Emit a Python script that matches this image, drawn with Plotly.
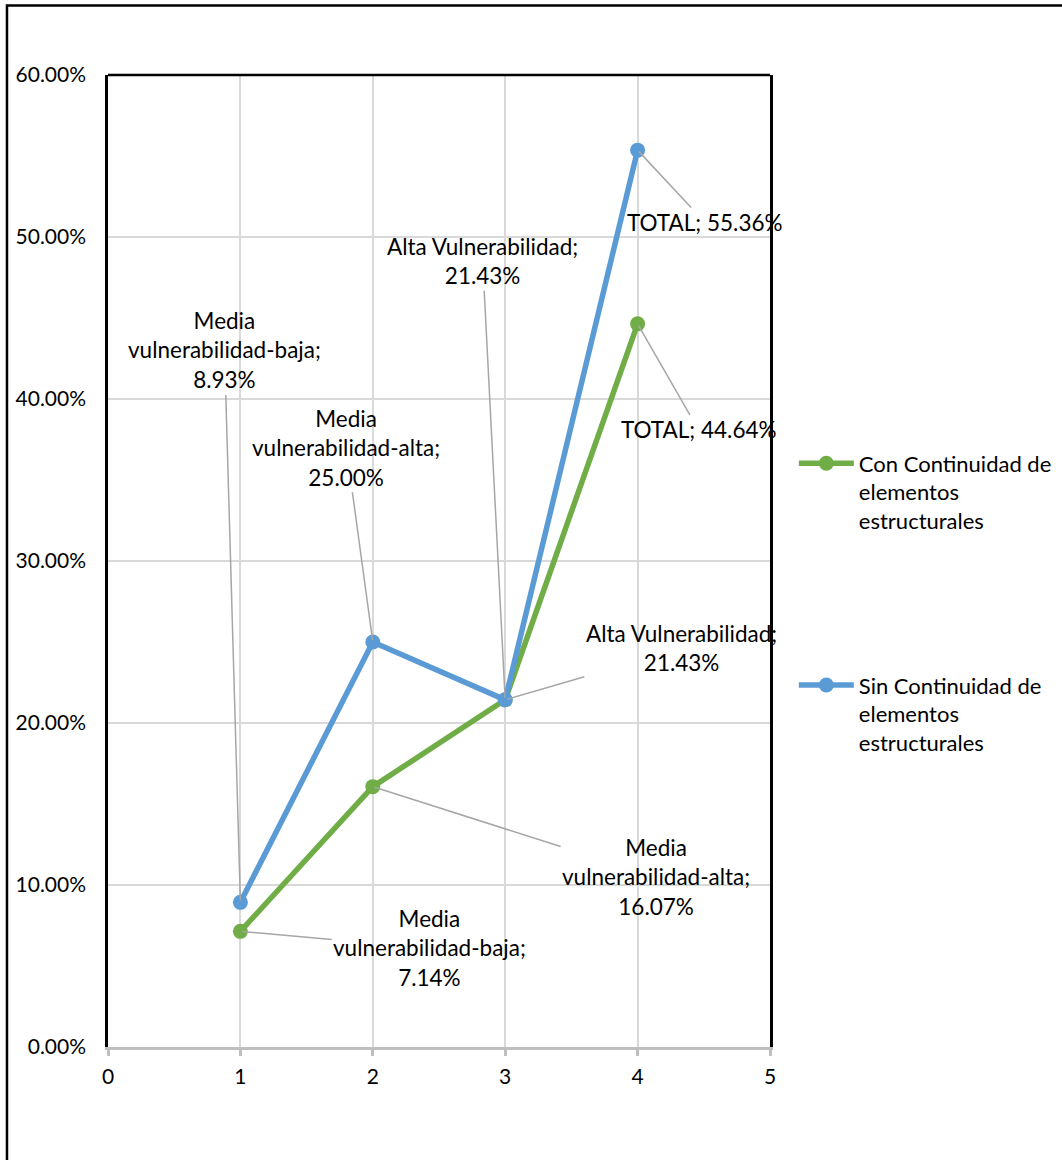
import plotly.graph_objects as go

# Values per vulnerability level (percent)
levels = [1, 2, 3, 4]
categories = ["Media<br>vulnerabilidad-baja", "Media<br>vulnerabilidad-alta",
              "Alta Vulnerabilidad", "TOTAL"]
label_sep = [";<br>", ";<br>", ";<br>", "; "]

con_name = "Con Continuidad de<br>elementos<br>estructurales"
con_values = [7.14, 16.07, 21.43, 44.64]

sin_name = "Sin Continuidad de<br>elementos<br>estructurales"
sin_values = [8.93, 25.00, 21.43, 55.36]

# Label placement (data coordinates of each label's centre)
con_label_pos = [(2.43, 6.1), (4.14, 10.5), (4.33, 24.6), (4.46, 38.1)]
sin_label_pos = [(0.88, 43.0), (1.80, 37.0), (2.83, 48.5), (4.51, 50.9)]

y_ticks = [0, 10, 20, 30, 40, 50, 60]
x_ticks = [0, 1, 2, 3, 4, 5]

GREEN = "#70AD47"
BLUE = "#5B9BD5"
FONT = "Lato"
FS_TICK = 21
FS_LABEL = 22.5
FS_LEGEND = 22

fig = go.Figure()
fig.add_trace(go.Scatter(
    x=levels, y=con_values, name=con_name, mode="lines+markers",
    line=dict(color=GREEN, width=5.5), marker=dict(size=15, color=GREEN),
    legendgroup="con"))
fig.add_trace(go.Scatter(
    x=levels, y=sin_values, name=sin_name, mode="lines+markers",
    line=dict(color=BLUE, width=5.5), marker=dict(size=15, color=BLUE),
    legendgroup="sin"))

annotations = []
for vals, pos in ((con_values, con_label_pos), (sin_values, sin_label_pos)):
    for lv, cat, sep, v, (lx, ly) in zip(levels, categories, label_sep, vals, pos):
        annotations.append(dict(
            x=lv, y=v, xref="x", yref="y", axref="x", ayref="y", ax=lx, ay=ly,
            text=f"{cat}{sep}{v:.2f}%", showarrow=True, arrowhead=0,
            arrowwidth=1.5, arrowcolor="#A6A6A6", standoff=2,
            font=dict(family=FONT, size=FS_LABEL, color="#000000"),
            align="center"))

shapes = [
    # top edge of the plotting area
    dict(type="line", xref="paper", yref="paper", x0=0, x1=1, y0=1, y1=1,
         line=dict(color="#000000", width=2.5)),
    # outer chart frame
    dict(type="rect", xref="paper", yref="paper", x0=-0.1526, x1=1.8,
         y0=-0.3, y1=1.0715, line=dict(color="#000000", width=2.5)),
]

fig.update_layout(
    width=1062, height=1160,
    margin=dict(l=108, r=292, t=75, b=113, autoexpand=False),
    paper_bgcolor="#FFFFFF", plot_bgcolor="#FFFFFF",
    font=dict(family=FONT, size=FS_TICK, color="#000000"),
    annotations=annotations, shapes=shapes,
    legend=dict(x=1.036, y=0.622, xanchor="left", yanchor="top",
                valign="top", tracegroupgap=133, itemwidth=55,
                font=dict(family=FONT, size=FS_LEGEND, color="#000000")),
    xaxis=dict(range=[0, 5], tickvals=x_ticks, showgrid=True,
               gridcolor="#D9D9D9", gridwidth=1.5, zeroline=False,
               showline=True, linecolor="#BFBFBF", linewidth=3,
               ticks="outside", ticklen=6, tickwidth=3, tickcolor="#BFBFBF",
               ticklabelstandoff=3, automargin=False,
               tickfont=dict(family=FONT, size=FS_TICK)),
    yaxis=dict(range=[0, 60], tickvals=y_ticks,
               ticktext=[f"{t:.2f}%" for t in y_ticks],
               showgrid=True, gridcolor="#D9D9D9", gridwidth=1.5,
               zeroline=False, showline=True, linecolor="#000000",
               linewidth=2.5, mirror=True, ticks="", ticklabelstandoff=15,
               automargin=False,
               tickfont=dict(family=FONT, size=FS_TICK)),
)

fig.write_html("out.html")
